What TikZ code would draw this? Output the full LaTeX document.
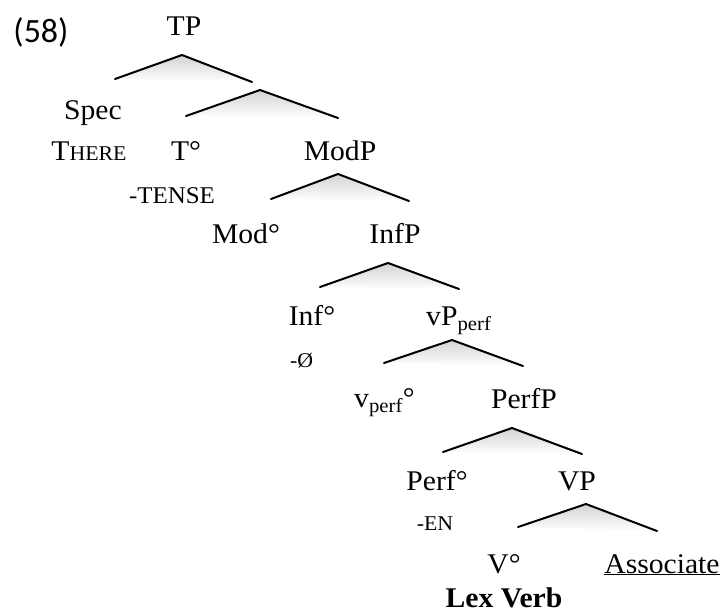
\documentclass[tikz,border=0pt]{standalone}
\usepackage{fontspec}
\setmainfont{Liberation Serif}[FakeStretch=1.04]
\newfontfamily\exfont{Carlito}
\newcommand{\smc}[1]{{\fontsize{21}{26}\selectfont #1}}
\newcommand{\fork}[1]{%
  \shade[drop] (#1-l) -- (#1-t) -- (#1-r) -- cycle;
  \draw[branch] (#1-l) -- (#1-t) -- (#1-r);}
\tikzset{
  lbl/.style={anchor=base,inner sep=0pt,font=\fontsize{28.5}{32}\selectfont},
  lblw/.style={lbl,anchor=base west},
  branch/.style={line width=2pt},
  drop/.style={top color=gray!35,bottom color=white,draw=none},
}
\begin{document}
\begin{tikzpicture}[x=1pt,y=-1pt,line cap=round,line join=round]
  \useasboundingbox (0,0) rectangle (723,614);
  % labels
  \node[lbl,font=\exfont\fontsize{34}{38}\selectfont] (ex) at (41,42) {(58)};
  \node[lbl] (tp) at (184,35) {TP};
  \node[lbl] (spec) at (93,119) {Spec};
  \node[lbl] (there) at (89,160) {T\smc{HERE}};
  \node[lbl] (t) at (186,160) {T°};
  \node[lbl] (tense) at (172,203) {{\fontsize{24}{28}\selectfont -TENSE}};
  \node[lbl] (modp) at (340,160) {ModP};
  \node[lbl] (mod) at (246,243) {Mod°};
  \node[lbl] (infp) at (395,243) {InfP};
  \node[lbl] (inf) at (312,325) {Inf°};
  \node[lblw] (null) at (290,367) {\smc{-Ø}};
  \node[lblw] (vp) at (426,325) {vP\textsubscript{perf}};
  \node[lblw] (v) at (354,407) {v\textsubscript{perf}°};
  \node[lbl] (perfp) at (524,408) {PerfP};
  \node[lbl] (perf) at (437,490) {Perf°};
  \node[lbl] (en) at (435,530) {\smc{-EN}};
  \node[lbl] (vvp) at (577,490) {VP};
  \node[lbl] (vhead) at (504,573) {V°};
  \node[lbl] (assoc) at (662,573) {\underline{Associate}};
  \node[lbl] (lex) at (504,607) {\textbf{Lex Verb}};
  % branches
  \coordinate (tp-t) at (182,55);   \coordinate (tp-l) at (115,79);   \coordinate (tp-r) at (252,82);
  \coordinate (tb-t) at (260,90);   \coordinate (tb-l) at (186,116);  \coordinate (tb-r) at (338,118);
  \coordinate (mod-t) at (338,174); \coordinate (mod-l) at (271,199); \coordinate (mod-r) at (409,201);
  \coordinate (inf-t) at (388,263); \coordinate (inf-l) at (320,287); \coordinate (inf-r) at (459,289);
  \coordinate (vp-t) at (452,340);  \coordinate (vp-l) at (384,363);  \coordinate (vp-r) at (523,366);
  \coordinate (perf-t) at (512,428);\coordinate (perf-l) at (443,452);\coordinate (perf-r) at (582,454);
  \coordinate (vvp-t) at (586,504); \coordinate (vvp-l) at (518,527); \coordinate (vvp-r) at (657,531);
  \fork{tp}
  \fork{tb}
  \fork{mod}
  \fork{inf}
  \fork{vp}
  \fork{perf}
  \fork{vvp}
\end{tikzpicture}
\end{document}
